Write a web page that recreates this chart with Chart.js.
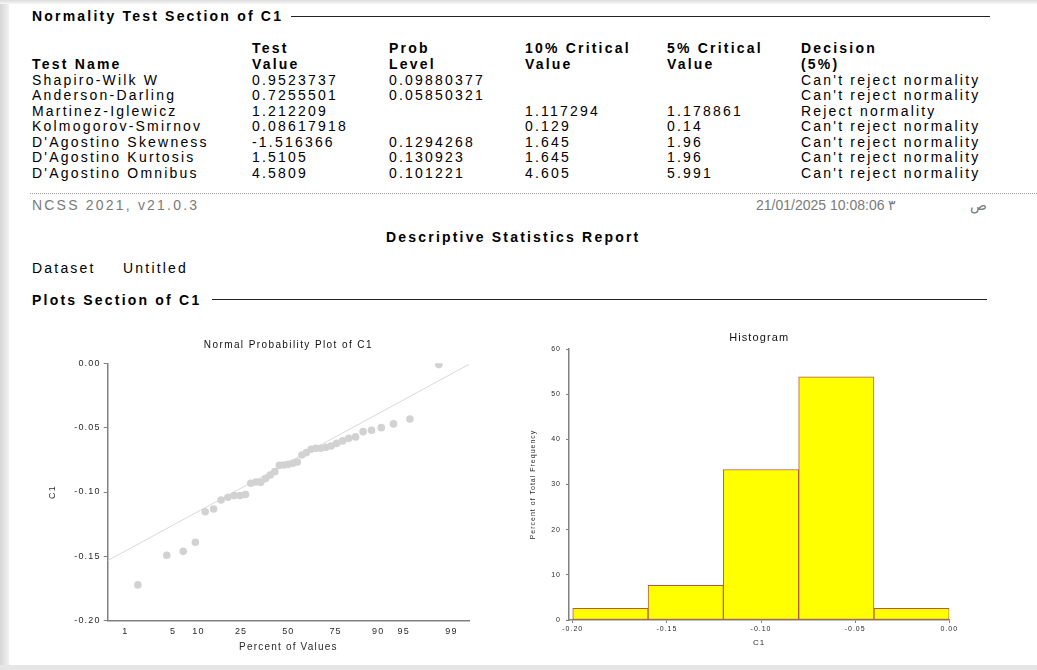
<!DOCTYPE html>
<html>
<head>
<meta charset="utf-8">
<script src="https://cdn.jsdelivr.net/npm/chart.js@4"></script>
<style>
  html, body { margin: 0; padding: 0; }
  body {
    width: 1037px; height: 670px; position: relative; overflow: hidden;
    background: #fff; color: #000;
    font-family: "Liberation Sans", Arial, sans-serif;
  }
  .edge-left { position: absolute; left: 0; top: 0; width: 9px; height: 670px;
    background: linear-gradient(to right, #d6d6d6, #f2f2f2); }
  .edge-top { position: absolute; left: 0; top: 0; width: 1037px; height: 4px;
    background: linear-gradient(to bottom, #dcdcdc, #f6f6f6); }
  .edge-bottom { position: absolute; left: 0; top: 665px; width: 1037px; height: 5px;
    background: #e6e6e6; }
  .t { position: absolute; white-space: nowrap; font-size: 14px; line-height: 14px;
    letter-spacing: 2.2px; }
  .b { font-weight: bold; }
  .gray { color: #7a7a7a; }
  .rule { position: absolute; height: 0; border-top: 1px solid #222; }
  .dots { position: absolute; height: 0; border-top: 1px dotted #9a9a9a; }
  canvas { position: absolute; }
  #probPlot { left: 40px; top: 335px; }
  #histPlot { left: 510px; top: 330px; }
</style>
</head>
<body>
<div class="edge-left"></div>
<div class="edge-top"></div>
<div class="edge-bottom"></div>
<div id="report"></div>
<canvas id="probPlot" width="440" height="325"></canvas>
<canvas id="histPlot" width="460" height="330"></canvas>
<script>
// ---- Normality test table ----
const headerLine1 = ['', 'Test', 'Prob', '10% Critical', '5% Critical', 'Decision'];
const headerLine2 = ['Test Name', 'Value', 'Level', 'Value', 'Value', '(5%)'];
const testNames = ['Shapiro-Wilk W', 'Anderson-Darling', 'Martinez-Iglewicz', 'Kolmogorov-Smirnov',
  "D'Agostino Skewness", "D'Agostino Kurtosis", "D'Agostino Omnibus"];
const testValues = ['0.9523737', '0.7255501', '1.212209', '0.08617918', '-1.516366', '1.5105', '4.5809'];
const probLevels = ['0.09880377', '0.05850321', '', '', '0.1294268', '0.130923', '0.101221'];
const critical10 = ['', '', '1.117294', '0.129', '1.645', '1.645', '4.605'];
const critical5 = ['', '', '1.178861', '0.14', '1.96', '1.96', '5.991'];
const decisions = ["Can't reject normality", "Can't reject normality", 'Reject normality',
  "Can't reject normality", "Can't reject normality", "Can't reject normality", "Can't reject normality"];

// ---- Normal probability plot of C1 (sorted values vs. normal scores) ----
const c1Sorted = [-0.1722, -0.1492, -0.1461, -0.1391, -0.1153, -0.1132, -0.1062, -0.1041, -0.1028,
  -0.1028, -0.1020, -0.0932, -0.0922, -0.0925, -0.0896, -0.0868, -0.0842, -0.0793, -0.0790, -0.0785,
  -0.0777, -0.0767, -0.0712, -0.0694, -0.0668, -0.0660, -0.0660, -0.0653, -0.0642, -0.0622, -0.0603,
  -0.0583, -0.0572, -0.0531, -0.0521, -0.0500, -0.0471, -0.0433, -0.0010];
const normalScores = [-2.146, -1.734, -1.499, -1.326, -1.186, -1.066, -0.959, -0.862, -0.773, -0.689,
  -0.611, -0.536, -0.463, -0.393, -0.325, -0.258, -0.193, -0.128, -0.064, 0.000, 0.064, 0.128, 0.193,
  0.258, 0.325, 0.393, 0.463, 0.536, 0.611, 0.689, 0.773, 0.862, 0.959, 1.066, 1.186, 1.326, 1.499,
  1.734, 2.146];
const percentTickLabels = ['1', '5', '10', '25', '50', '75', '90', '95', '99'];
const percentTickScores = [-2.326, -1.645, -1.282, -0.674, 0, 0.674, 1.282, 1.645, 2.326];
const referenceLineScores = [-2.576, 2.576];
const referenceLineC1 = [-0.1533, -0.0008];

// ---- Histogram of C1 ----
const binCenters = [-0.18, -0.14, -0.10, -0.06, -0.02];
const binPercents = [2.56, 7.69, 33.33, 53.85, 2.56];
const histTickValues = [-0.20, -0.15, -0.10, -0.05, 0.00];

// ---- Report text ----
const report = document.getElementById('report');
function addText(text, x, y, cls) {
  const d = document.createElement('div');
  d.className = 't' + (cls ? ' ' + cls : '');
  d.textContent = text;
  d.style.left = x + 'px';
  d.style.top = y + 'px';
  report.appendChild(d);
  return d;
}
function addRule(cls, x1, x2, y) {
  const d = document.createElement('div');
  d.className = cls;
  d.style.left = x1 + 'px';
  d.style.width = (x2 - x1) + 'px';
  d.style.top = y + 'px';
  report.appendChild(d);
}

addText('Normality Test Section of C1', 32, 9, 'b');
addRule('rule', 291, 990, 16);

const colX = [32, 252, 389, 525, 667, 801];
headerLine1.forEach((h, i) => { if (h) addText(h, colX[i], 41, 'b'); });
headerLine2.forEach((h, i) => addText(h, colX[i], 57, 'b'));
const columns = [testNames, testValues, probLevels, critical10, critical5, decisions];
testNames.forEach((_, r) => {
  const y = 73 + r * 15.45;
  columns.forEach((col, c) => { if (col[r]) addText(col[r], colX[c], y); });
});

addRule('dots', 30, 1037, 193);
addText('NCSS 2021, v21.0.3', 32, 198, 'gray');
addText('21/01/2025 10:08:06 \u0663', 756, 198, 'gray');
addText('\u0635', 970, 198, 'gray');

const reportTitle = addText('Descriptive Statistics Report', 0, 230, 'b');
reportTitle.style.left = (513 - reportTitle.offsetWidth / 2) + 'px';

addText('Dataset', 32, 261);
addText('Untitled', 123, 261);

addText('Plots Section of C1', 32, 293, 'b');
addRule('rule', 212, 987, 299);

// ---- Chart helpers ----
const panelText = {
  id: 'panelText',
  beforeDraw(chart, args, opts) {
    chart.ctx.letterSpacing = opts.spacing || '0px';
  },
  afterDraw(chart, args, opts) {
    if (!opts.text) return;
    const ctx = chart.ctx;
    const a = chart.chartArea;
    ctx.save();
    ctx.letterSpacing = opts.titleSpacing || '0px';
    ctx.font = opts.font;
    ctx.fillStyle = '#111';
    ctx.textAlign = 'center';
    ctx.textBaseline = 'middle';
    ctx.fillText(opts.text, (a.left + a.right) / 2, opts.y);
    ctx.restore();
  }
};

const axisColor = '#808080';
const tickColor = '#2a2a2a';
const fontFamily = '"Liberation Sans", Arial, sans-serif';

// ---- Normal probability plot ----
new Chart(document.getElementById('probPlot'), {
  type: 'scatter',
  data: {
    datasets: [
      {
        type: 'line',
        data: referenceLineScores.map((z, i) => ({ x: z, y: referenceLineC1[i] })),
        borderColor: '#d9d9d9',
        borderWidth: 1,
        pointRadius: 0,
        order: 2
      },
      {
        data: normalScores.map((z, i) => ({ x: z, y: c1Sorted[i] })),
        backgroundColor: '#d2d2d2',
        borderColor: '#d2d2d2',
        borderWidth: 0,
        pointRadius: 3.8,
        order: 1
      }
    ]
  },
  options: {
    responsive: false,
    animation: false,
    devicePixelRatio: 1,
    layout: { padding: { left: 0, right: 11, top: 28.3, bottom: 0 } },
    plugins: {
      legend: { display: false },
      tooltip: { enabled: false },
      panelText: { text: 'Normal Probability Plot of C1', y: 10, font: '10px ' + fontFamily,
        spacing: '1.2px', titleSpacing: '1.4px' }
    },
    scales: {
      x: {
        type: 'linear',
        min: -2.576, max: 2.576,
        afterBuildTicks: s => { s.ticks = percentTickScores.map(v => ({ value: v })); },
        afterFit: s => { s.height = 39.3; },
        grid: { display: true, drawOnChartArea: false, drawTicks: false },
        border: { display: true, color: axisColor, width: 1.5 },
        ticks: {
          autoSkip: false, maxRotation: 0, padding: 5, color: tickColor,
          font: { size: 9, family: fontFamily },
          callback: (v, i) => percentTickLabels[i]
        },
        title: { display: true, text: 'Percent of Values', color: tickColor,
          font: { size: 10, family: fontFamily }, padding: { top: 0, bottom: 7 } }
      },
      y: {
        type: 'linear',
        min: -0.20, max: 0,
        afterFit: s => { s.width = 67.7; },
        grid: { display: true, drawOnChartArea: false, drawTicks: true, tickLength: 4, color: axisColor },
        border: { display: true, color: axisColor, width: 1.5 },
        ticks: {
          stepSize: 0.05, padding: 3, color: tickColor,
          font: { size: 9, family: fontFamily },
          callback: v => v.toFixed(2)
        },
        title: { display: true, text: 'C1', color: tickColor,
          font: { size: 9, family: fontFamily }, padding: { top: 7, bottom: 0 } }
      }
    }
  },
  plugins: [panelText]
});

// ---- Histogram ----
new Chart(document.getElementById('histPlot'), {
  type: 'bar',
  data: {
    datasets: [{
      data: binCenters.map((c, i) => ({ x: c, y: binPercents[i] })),
      backgroundColor: '#ffff00',
      borderColor: '#b5574a',
      borderWidth: 1,
      borderSkipped: false,
      barPercentage: 1,
      categoryPercentage: 1
    }]
  },
  options: {
    responsive: false,
    animation: false,
    devicePixelRatio: 1,
    layout: { padding: { left: 0, right: 20.7, top: 19, bottom: 0 } },
    plugins: {
      legend: { display: false },
      tooltip: { enabled: false },
      panelText: { text: 'Histogram', y: 8, font: '11px ' + fontFamily,
        spacing: '1px', titleSpacing: '1.1px' }
    },
    scales: {
      x: {
        type: 'linear',
        offset: false,
        min: -0.202, max: 0,
        afterBuildTicks: s => { s.ticks = histTickValues.map(v => ({ value: v })); },
        afterFit: s => { s.height = 40; },
        grid: { display: true, offset: false, drawOnChartArea: false, drawTicks: true, tickLength: 3, color: axisColor },
        border: { display: true, color: axisColor, width: 1.5 },
        ticks: {
          autoSkip: false, maxRotation: 0, padding: 2, color: tickColor,
          font: { size: 7, family: fontFamily },
          callback: v => v.toFixed(2)
        },
        title: { display: true, text: 'C1', color: tickColor,
          font: { size: 8, family: fontFamily }, padding: { top: 0, bottom: 12.2 } }
      },
      y: {
        type: 'linear',
        min: 0, max: 60,
        afterFit: s => { s.width = 59; },
        grid: { display: true, drawOnChartArea: false, drawTicks: true, tickLength: 3, color: axisColor },
        border: { display: true, color: axisColor, width: 1.5 },
        ticks: {
          stepSize: 10, padding: 5, color: tickColor,
          font: { size: 7, family: fontFamily }
        },
        title: { display: true, text: 'Percent of Total Frequency', color: tickColor,
          font: { size: 7, family: fontFamily }, padding: { top: 18.8, bottom: 0 } }
      }
    }
  },
  plugins: [panelText]
});
</script>
</body>
</html>
